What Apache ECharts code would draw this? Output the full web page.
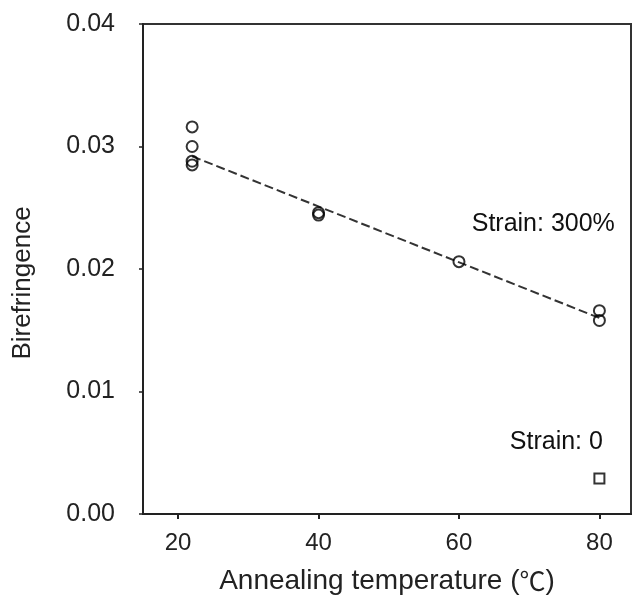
<!DOCTYPE html>
<html>
<head>
<meta charset="utf-8">
<script src="https://cdn.jsdelivr.net/npm/echarts@6/dist/echarts.min.js"></script>
<style>
  html, body { margin: 0; padding: 0; background: #fff; }
  #chart { width: 634px; height: 604px; }
</style>
</head>
<body>
<div id="chart"></div>
<script>
// Birefringence measured after annealing, strained to 300%
const strainedTemps = [22, 22, 22, 22, 40, 40, 60, 80, 80];
const strainedValues = [0.0316, 0.0300, 0.0288, 0.0285, 0.0246, 0.0244, 0.0206, 0.0166, 0.0158];

// Unstrained reference sample
const unstrainedTemps = [80];
const unstrainedValues = [0.0029];

// Linear trend through the strained samples (end points)
const trendTemps = [22, 80];
const trendValues = [0.0292, 0.0160];

// Axis ticks
const xTicks = [20, 40, 60, 80];
const yTicks = [0.00, 0.01, 0.02, 0.03, 0.04];

// Annotation anchors (data coordinates, text is right-aligned on them)
const labelStrained = { text: 'Strain: 300%', at: [82.2, 0.0237] };
const labelUnstrained = { text: 'Strain: 0', at: [80.5, 0.0059] };

const zip = (xs, ys) => xs.map((x, i) => [x, ys[i]]);

const FONT = '"Liberation Sans", Arial, sans-serif';
const CJK = '"Noto Sans CJK SC", "Noto Sans CJK JP", sans-serif';
const INK = '#222';

const chart = echarts.init(document.getElementById('chart'), null, { renderer: 'canvas' });

chart.setOption({
  animation: false,
  backgroundColor: '#fff',
  grid: {
    left: 143, right: 3, top: 24, bottom: 90,
    show: true, borderColor: '#333', borderWidth: 2
  },
  xAxis: {
    type: 'value',
    min: 15, max: 84.5,
    // full-width degree sign set in a CJK face
    name: '{t|Annealing temperature (}{c|℃}{t|)}',
    nameLocation: 'middle',
    nameGap: 53,
    nameTextStyle: {
      fontFamily: FONT, fontSize: 28, color: INK,
      rich: {
        t: { fontFamily: FONT, fontSize: 28, color: INK },
        c: { fontFamily: CJK, fontSize: 26, color: INK }
      }
    },
    splitLine: { show: false },
    axisLine: { show: true, onZero: false, lineStyle: { color: INK, width: 2 } },
    axisTick: {
      show: true, length: 5, inside: false,
      customValues: xTicks,
      lineStyle: { color: INK, width: 2 }
    },
    axisLabel: {
      customValues: xTicks,
      margin: 17,
      fontFamily: FONT, fontSize: 24, color: INK
    }
  },
  yAxis: {
    type: 'value',
    min: 0, max: 0.04, interval: 0.01,
    name: 'Birefringence',
    nameLocation: 'middle',
    nameGap: 107,
    // right padding nudges the rotated title a little below the axis centre
    nameTextStyle: { fontFamily: FONT, fontSize: 26, color: INK, padding: [0, 28, 0, 0] },
    splitLine: { show: false },
    axisLine: { show: true, onZero: false, lineStyle: { color: INK, width: 2 } },
    axisTick: {
      show: true, length: 4, inside: false,
      customValues: yTicks,
      lineStyle: { color: INK, width: 1.5 }
    },
    axisLabel: {
      customValues: yTicks,
      margin: 28,
      formatter: v => v.toFixed(2),
      fontFamily: FONT, fontSize: 25, color: INK
    }
  },
  series: [
    {
      name: 'Trend',
      type: 'line',
      data: zip(trendTemps, trendValues),
      symbol: 'none',
      lineStyle: { color: '#333', width: 2, type: [9, 4] },
      z: 2
    },
    {
      name: 'Strain 300%',
      type: 'scatter',
      data: zip(strainedTemps, strainedValues),
      symbol: 'circle',
      symbolSize: 11,
      itemStyle: { color: 'rgba(255,255,255,0)', borderColor: '#000', borderWidth: 2 },
      z: 3,
      markPoint: {
        symbol: 'rect', symbolSize: 0,
        label: {
          show: true, position: 'left', distance: 0,
          formatter: p => p.name,
          fontFamily: FONT, fontSize: 25, color: '#111'
        },
        data: [
          { name: labelStrained.text, coord: labelStrained.at },
          { name: labelUnstrained.text, coord: labelUnstrained.at }
        ]
      }
    },
    {
      name: 'Strain 0',
      type: 'scatter',
      data: zip(unstrainedTemps, unstrainedValues),
      symbol: 'rect',
      symbolSize: 10,
      itemStyle: { color: 'rgba(255,255,255,0)', borderColor: '#000', borderWidth: 2 },
      z: 3
    }
  ]
});
</script>
</body>
</html>
